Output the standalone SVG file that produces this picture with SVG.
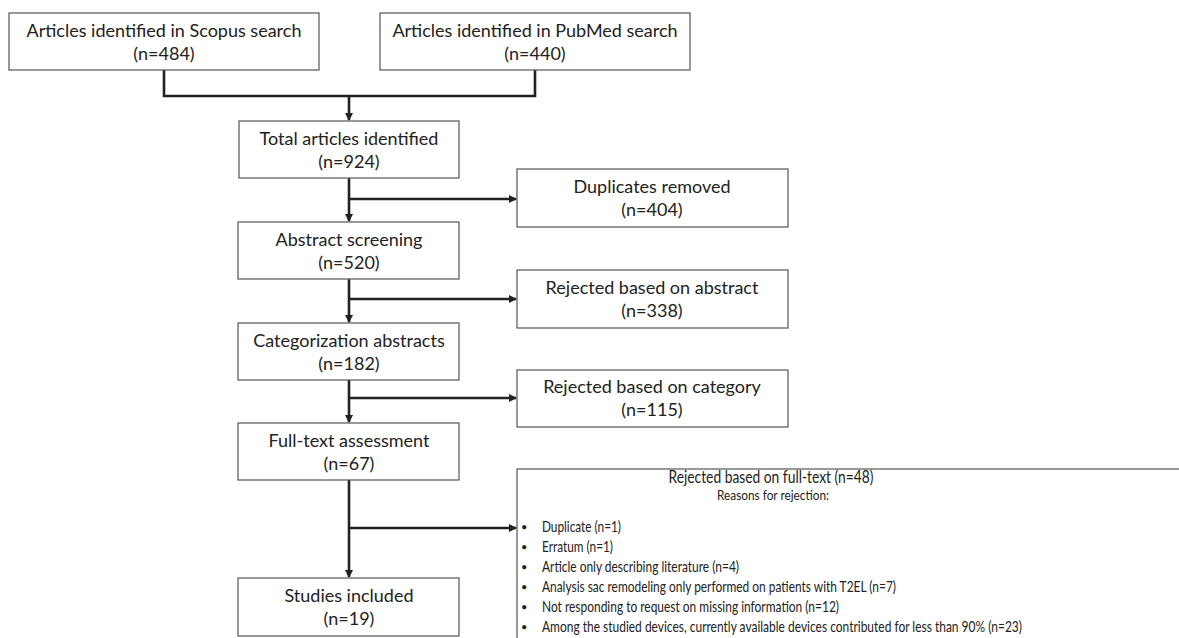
<svg xmlns="http://www.w3.org/2000/svg" width="1179" height="638" viewBox="0 0 1179 638">
<style>
.box{fill:#fff;stroke:#555;stroke-width:1.2}
.t{font-family:Lato,"Liberation Sans",sans-serif;font-size:18px;fill:#222;text-anchor:middle}
.s{font-family:Lato,"Liberation Sans",sans-serif;font-size:16px;fill:#222}
.b{font-family:Lato,"Liberation Sans",sans-serif;font-size:11px;fill:#222}
.c{fill:none;stroke:#222;stroke-width:2.6}
</style>
<defs>
<marker id="ah" markerWidth="8" markerHeight="8" refX="7" refY="4" orient="auto" markerUnits="userSpaceOnUse">
<path d="M0,0 L8,4 L0,8 Z" fill="#222"/>
</marker>
</defs>
<rect width="1179" height="638" fill="#fff"/>
<g id="connectors">
<path class="c" d="M164,70 V96 H535 V70"/>
<path class="c" d="M349,96 V120" marker-end="url(#ah)"/>
<path class="c" d="M349,178 V221" marker-end="url(#ah)"/>
<path class="c" d="M349,199 H516" marker-end="url(#ah)"/>
<path class="c" d="M349,279 V322" marker-end="url(#ah)"/>
<path class="c" d="M349,299 H516" marker-end="url(#ah)"/>
<path class="c" d="M349,380 V422" marker-end="url(#ah)"/>
<path class="c" d="M349,398 H516" marker-end="url(#ah)"/>
<path class="c" d="M349,480 V577" marker-end="url(#ah)"/>
<path class="c" d="M349,528 H516" marker-end="url(#ah)"/>
</g>
<g id="scopus">
<rect class="box" x="9" y="13" width="310" height="57"/>
<text class="t" x="164" y="37">Articles identified in Scopus search</text>
<text class="t" x="164" y="60">(n=484)</text>
</g>
<g id="pubmed">
<rect class="box" x="380" y="13" width="310" height="57"/>
<text class="t" x="535" y="37">Articles identified in PubMed search</text>
<text class="t" x="535" y="60">(n=440)</text>
</g>
<g id="total">
<rect class="box" x="239" y="121" width="220" height="57"/>
<text class="t" x="349" y="145">Total articles identified</text>
<text class="t" x="349" y="168">(n=924)</text>
</g>
<g id="duplicates">
<rect class="box" x="517" y="169" width="271" height="58"/>
<text class="t" x="652" y="193">Duplicates removed</text>
<text class="t" x="652" y="216">(n=404)</text>
</g>
<g id="abstract">
<rect class="box" x="238" y="222" width="221" height="57"/>
<text class="t" x="349" y="246">Abstract screening</text>
<text class="t" x="349" y="269">(n=520)</text>
</g>
<g id="rej-abstract">
<rect class="box" x="517" y="270" width="271" height="58"/>
<text class="t" x="652" y="294">Rejected based on abstract</text>
<text class="t" x="652" y="317">(n=338)</text>
</g>
<g id="categorization">
<rect class="box" x="238" y="323" width="221" height="57"/>
<text class="t" x="349" y="347">Categorization abstracts</text>
<text class="t" x="349" y="370">(n=182)</text>
</g>
<g id="rej-category">
<rect class="box" x="517" y="370" width="271" height="57"/>
<text class="t" x="652" y="393">Rejected based on category</text>
<text class="t" x="652" y="416">(n=115)</text>
</g>
<g id="fulltext">
<rect class="box" x="238" y="423" width="221" height="57"/>
<text class="t" x="349" y="447">Full-text assessment</text>
<text class="t" x="349" y="470">(n=67)</text>
</g>
<g id="included">
<rect class="box" x="238" y="578" width="221" height="58"/>
<text class="t" x="349" y="602">Studies included</text>
<text class="t" x="349" y="625">(n=19)</text>
</g>
<g id="rej-fulltext">
<rect class="box" x="517" y="469" width="700" height="200"/>
<text class="t" x="771" y="483" textLength="205" lengthAdjust="spacingAndGlyphs">Rejected based on full-text (n=48)</text>
<text class="t" x="773" y="500" style="font-size:13px" textLength="112" lengthAdjust="spacingAndGlyphs">Reasons for rejection:</text>
<g class="b">
<text x="521" y="531">•</text>
<text x="521" y="551">•</text>
<text x="521" y="571">•</text>
<text x="521" y="591">•</text>
<text x="521" y="611">•</text>
<text x="521" y="631">•</text>
</g>
<g class="s">
<text x="542" y="532" textLength="79" lengthAdjust="spacingAndGlyphs">Duplicate (n=1)</text>
<text x="542" y="552" textLength="71" lengthAdjust="spacingAndGlyphs">Erratum (n=1)</text>
<text x="542" y="572" textLength="197" lengthAdjust="spacingAndGlyphs">Article only describing literature (n=4)</text>
<text x="542" y="592" textLength="354" lengthAdjust="spacingAndGlyphs">Analysis sac remodeling only performed on patients with T2EL (n=7)</text>
<text x="542" y="612" textLength="297" lengthAdjust="spacingAndGlyphs">Not responding to request on missing information (n=12)</text>
<text x="542" y="632" textLength="480" lengthAdjust="spacingAndGlyphs">Among the studied devices, currently available devices contributed for less than 90% (n=23)</text>
</g>
</g>
</svg>
